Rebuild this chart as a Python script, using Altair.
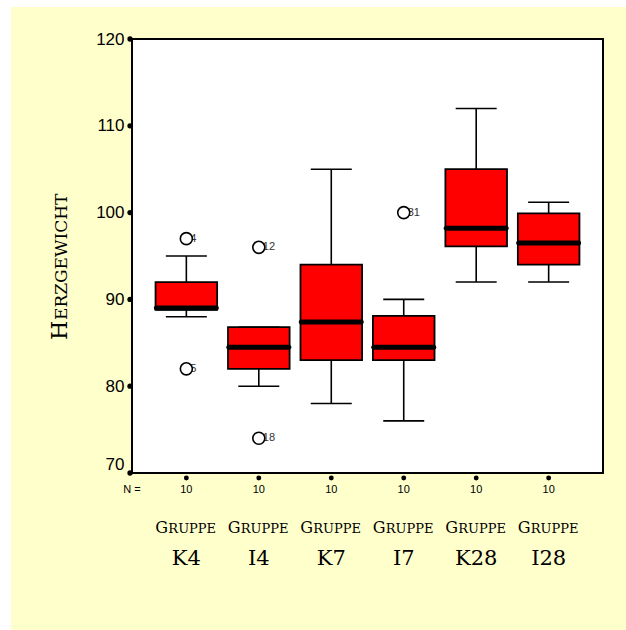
import altair as alt
import pandas as pd

# ---- data ----
groups = ["K4", "I4", "K7", "I7", "K28", "I28"]
whisker_low = [88, 80, 78, 76, 92, 92]
q1 = [88.8, 82, 83, 83, 96.1, 94]
median = [89, 84.5, 87.4, 84.5, 98.2, 96.5]
q3 = [92, 86.8, 94, 88.1, 105, 99.9]
whisker_high = [95, 86.8, 105, 90, 112, 101.2]
n_cases = [10, 10, 10, 10, 10, 10]

outlier_group = ["K4", "K4", "I4", "I4", "I7"]
outlier_value = [97, 82, 96, 74, 100]
outlier_case = ["4", "5", "12", "18", "31"]

y_ticks = [70, 80, 90, 100, 110, 120]

W, H = 471, 434

box = pd.DataFrame(dict(group=groups, low=whisker_low, q1=q1, med=median,
                        q3=q3, high=whisker_high, n=n_cases))
out = pd.DataFrame(dict(group=outlier_group, value=outlier_value, case=outlier_case))
ticks = pd.DataFrame({"v": y_ticks})
one = pd.DataFrame({"a": [0]})

xs = alt.Scale(domain=groups, paddingInner=0, paddingOuter=0.25)
ys = alt.Scale(domain=[70, 120], nice=False, zero=False)
X = alt.X("group:N", scale=xs, axis=None)
yaxis = alt.Axis(values=y_ticks, ticks=False, domain=False, grid=False,
                 labelFont="Liberation Sans", labelFontSize=17, labelColor="black",
                 labelPadding=8, title=None, zindex=1,
                 labelBaseline={"condition": {"test": "datum.value == 70", "value": "bottom"},
                                "value": "middle"})


def Y(field):
    return alt.Y(field, scale=ys, axis=yaxis)


bg = alt.Chart(one).mark_rect(color="#FFFFCC").encode(
    x=alt.value(-121), x2=alt.value(494), y=alt.value(-32), y2=alt.value(591))
plotbg = alt.Chart(one).mark_rect(color="white").encode(
    x=alt.value(0), x2=alt.value(W), y=alt.value(0), y2=alt.value(H))

whisk = alt.Chart(box).mark_rule(color="black", strokeWidth=1.6).encode(
    x=X, y=Y("low:Q"), y2="high:Q")
cap_lo = alt.Chart(box).mark_tick(color="black", size=41, thickness=1.6,
                                  orient="horizontal", opacity=1).encode(x=X, y=Y("low:Q"))
cap_hi = alt.Chart(box).mark_tick(color="black", size=41, thickness=1.6,
                                  orient="horizontal", opacity=1).encode(x=X, y=Y("high:Q"))
bars = alt.Chart(box).mark_bar(color="#FF0000", stroke="black", strokeWidth=1.8,
                               width=alt.RelativeBandSize(0.85), opacity=1).encode(
    x=X, y=Y("q1:Q"), y2="q3:Q")
med = alt.Chart(box).mark_tick(color="black", size=65, thickness=5, orient="horizontal",
                               cornerRadius=2.5, opacity=1).encode(x=X, y=Y("med:Q"))

out_lbl = alt.Chart(out).mark_text(align="left", baseline="middle", dx=4, fontSize=11,
                                   font="Liberation Sans", color="#333333").encode(
    x=X, y=Y("value:Q"), text="case:N")
out_pt = alt.Chart(out).mark_point(shape="circle", size=145, filled=True, fill="white",
                                   stroke="black", strokeWidth=1.6, opacity=1).encode(
    x=X, y=Y("value:Q"))

frame = alt.Chart(one).mark_rect(fill="white", fillOpacity=0, stroke="black",
                                 strokeWidth=2).encode(
    x=alt.value(0), x2=alt.value(W), y=alt.value(0), y2=alt.value(H))

ydots = alt.Chart(ticks).mark_point(shape="circle", filled=True, color="black",
                                    size=28, opacity=1).encode(
    x=alt.value(-2), y=Y("v:Q"))
xdots = alt.Chart(box).mark_point(shape="circle", filled=True, color="black",
                                  size=24, opacity=1).encode(x=X, y=alt.value(H + 5))

n_lbl = alt.Chart(box).mark_text(fontSize=11, font="Liberation Sans", color="black",
                                 baseline="middle").encode(
    x=X, y=alt.value(H + 17), text="n:Q")
n_eq = alt.Chart(one).mark_text(text="N =", fontSize=11, font="Liberation Sans",
                                color="black", baseline="middle").encode(
    x=alt.value(0), y=alt.value(H + 17))

g_big = alt.Chart(box).mark_text(text="G", align="left", dx=-31, fontSize=16,
                                 font="DejaVu Serif", color="black",
                                 baseline="alphabetic").encode(x=X, y=alt.value(494))
g_small = alt.Chart(box).mark_text(text="RUPPE", align="left", dx=-18, fontSize=13,
                                   font="DejaVu Serif", color="black",
                                   baseline="alphabetic").encode(x=X, y=alt.value(494))
grp_lbl = alt.Chart(box).mark_text(fontSize=21, font="DejaVu Serif", color="black",
                                   baseline="alphabetic").encode(
    x=X, y=alt.value(526), text="group:N")

yt_big = alt.Chart(one).mark_text(text="H", angle=270, align="left", baseline="alphabetic",
                                  fontSize=22, font="DejaVu Serif", color="black").encode(
    x=alt.value(-65), y=alt.value(301))
yt_small = alt.Chart(one).mark_text(text="ERZGEWICHT", angle=270, align="left",
                                    baseline="alphabetic", fontSize=17,
                                    font="DejaVu Serif", color="black").encode(
    x=alt.value(-65), y=alt.value(281))

chart = alt.layer(
    bg, plotbg, whisk, cap_lo, cap_hi, bars, med, out_lbl, out_pt, frame,
    ydots, xdots, n_lbl, n_eq, g_big, g_small, grp_lbl, yt_big, yt_small
).properties(
    width=W, height=H,
    autosize=alt.AutoSizeParams(type="none"),
    padding={"left": 132, "top": 39, "right": 23, "bottom": 157},
).configure(background="white").configure_view(stroke=None)

chart.save("out.html", embed_options={"renderer": "svg", "actions": False})
